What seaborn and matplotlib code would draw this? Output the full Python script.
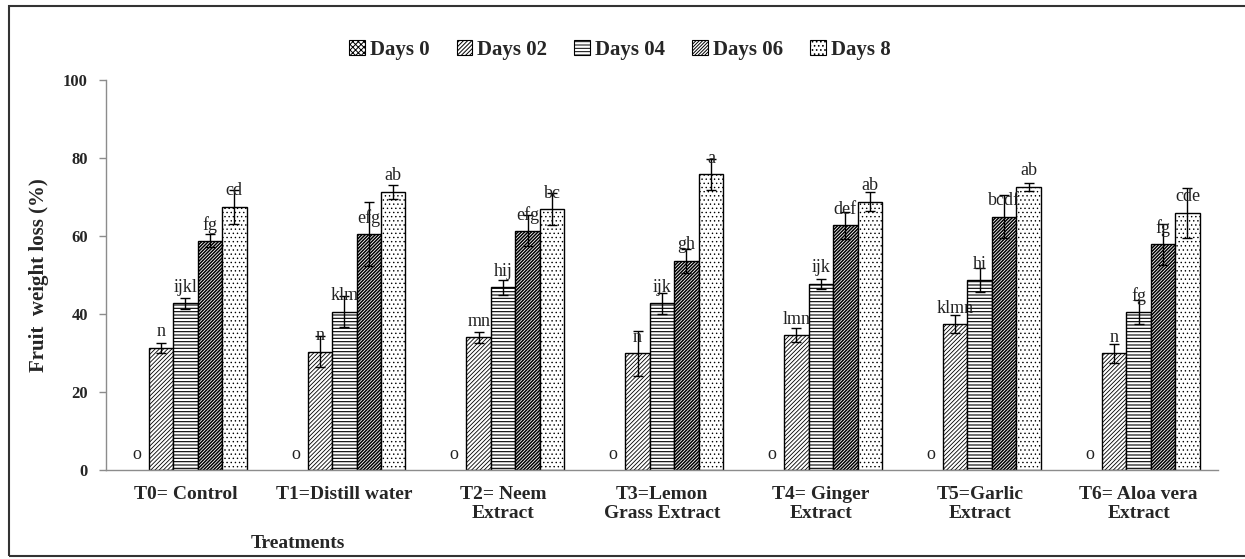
import numpy as np
import pandas as pd
import seaborn as sns
import matplotlib
matplotlib.use("Agg")
import matplotlib.pyplot as plt
from matplotlib.patches import Rectangle, Patch
from matplotlib.container import BarContainer

# ---- data ----
treatments = ["T0= Control", "T1=Distill water", "T2= Neem\nExtract",
              "T3=Lemon\nGrass Extract", "T4= Ginger\nExtract",
              "T5=Garlic\nExtract", "T6= Aloa vera\nExtract"]
days = ["Days 0", "Days 02", "Days 04", "Days 06", "Days 8"]

days0 = [0, 0, 0, 0, 0, 0, 0]
days02 = [31.3, 30.3, 34.0, 29.9, 34.6, 37.4, 29.9]
days04 = [42.8, 40.6, 46.8, 42.7, 47.7, 48.7, 40.6]
days06 = [58.8, 60.4, 61.4, 53.6, 62.7, 65.0, 57.9]
days8 = [67.5, 71.4, 66.9, 75.8, 68.8, 72.6, 66.0]

err0 = [0, 0, 0, 0, 0, 0, 0]
err02 = [1.3, 4.0, 1.45, 5.8, 1.7, 2.3, 2.4]
err04 = [1.4, 3.9, 2.0, 2.6, 1.3, 3.0, 3.1]
err06 = [1.6, 8.2, 4.0, 3.0, 3.4, 5.6, 5.3]
err8 = [4.3, 1.8, 4.0, 4.0, 2.4, 1.0, 6.4]

let0 = ["o", "o", "o", "o", "o", "o", "o"]
let02 = ["n", "n", "mn", "n", "lmn", "klmn", "n"]
let04 = ["ijkl", "klm", "hij", "ijk", "ijk", "hi", "fg"]
let06 = ["fg", "efg", "efg", "gh", "def", "bcdf", "fg"]
let8 = ["cd", "ab", "bc", "a", "ab", "ab", "cde"]

values = [days0, days02, days04, days06, days8]
errors = [err0, err02, err04, err06, err8]
letters = [let0, let02, let04, let06, let8]

rows = []
for d, vals in zip(days, values):
    for t, v in zip(treatments, vals):
        rows.append({"Treatment": t, "Day": d, "Value": v})
df = pd.DataFrame(rows)

# ---- style ----
sns.set_style("white")
plt.rcParams["font.family"] = ["Liberation Serif", "DejaVu Serif"]
plt.rcParams["hatch.linewidth"] = 0.7

fig = plt.figure(figsize=(12.45, 5.59), dpi=100)
ax = fig.add_axes([106 / 1245, 1 - 470 / 559, (1218 - 106) / 1245, (470 - 80) / 559])

sns.barplot(data=df, x="Treatment", y="Value", hue="Day", order=treatments,
            hue_order=days, palette=["white"] * 5, edgecolor="black",
            linewidth=1.0, width=0.77, errorbar=None, ax=ax, legend=False)

hatches = ["xxxxxx", "////////", "-----", "//////////", "...."]
hatch_lw = [0.8, 0.6, 0.8, 1.1, 0.5]
bar_conts = [c for c in ax.containers if isinstance(c, BarContainer)]
for ci, cont in enumerate(bar_conts):
    for j, p in enumerate(cont.patches):
        p.set_hatch(hatches[ci])
        if hasattr(p, "set_hatch_linewidth"):
            p.set_hatch_linewidth(hatch_lw[ci])
        p.set_facecolor("white")
        p.set_edgecolor("black")
        if p.get_height() == 0:
            p.set_linewidth(0)
            p.set_hatch(None)
        xc = p.get_x() + p.get_width() / 2
        h = p.get_height()
        if errors[ci][j] > 0:
            ax.errorbar(xc, h, yerr=errors[ci][j], color="black", lw=1.0,
                        capsize=3.5, capthick=1.0, zorder=5)
        ax.annotate(letters[ci][j], (xc, h), xytext=(0, 11.5),
                    textcoords="offset points", ha="center", va="center",
                    fontsize=13, color="#222222", zorder=6)

ax.set_xlim(-0.5, 6.5)
ax.set_ylim(0, 100)
ax.set_yticks([0, 20, 40, 60, 80, 100])
ax.set_xlabel("")
ax.set_ylabel("Fruit  weight loss (%)", fontsize=15, fontweight="bold", labelpad=10)
for s in ["top", "right"]:
    ax.spines[s].set_visible(False)
for s in ["left", "bottom"]:
    ax.spines[s].set_color("#8c8c8c")
    ax.spines[s].set_linewidth(1.0)
    ax.spines[s].set_zorder(10)
ax.tick_params(axis="y", which="both", left=True, length=5, width=1,
               color="#8c8c8c", labelsize=12, pad=8)
ax.tick_params(axis="x", bottom=False, labelsize=14, pad=8)
for lab in ax.get_yticklabels():
    lab.set_fontweight("bold")
for lab in ax.get_xticklabels():
    lab.set_fontweight("bold")
    lab.set_linespacing(1.15)

# x title
fig.text(298 / 1245, 1 - 543 / 559, "Treatments", ha="center", va="center",
         fontsize=14, fontweight="bold")

# legend
handles = [Patch(facecolor="white", edgecolor="black", hatch=h, lw=0.8) for h in hatches]
fig.legend(handles, days, loc="center", bbox_to_anchor=(620 / 1245, 1 - 50 / 559),
           ncol=5, frameon=False, handlelength=0.75, handleheight=0.75,
           handletextpad=0.25, columnspacing=1.3,
           prop={"family": "Liberation Serif", "weight": "bold", "size": 15})

# outer frame
fig.patches.append(Rectangle((9 / 1245, 3 / 559), 1.2, 1 - 9 / 559,
                             transform=fig.transFigure, fill=False,
                             edgecolor="#333333", lw=1.5, zorder=0))

fig.savefig("out.png", dpi=100)
